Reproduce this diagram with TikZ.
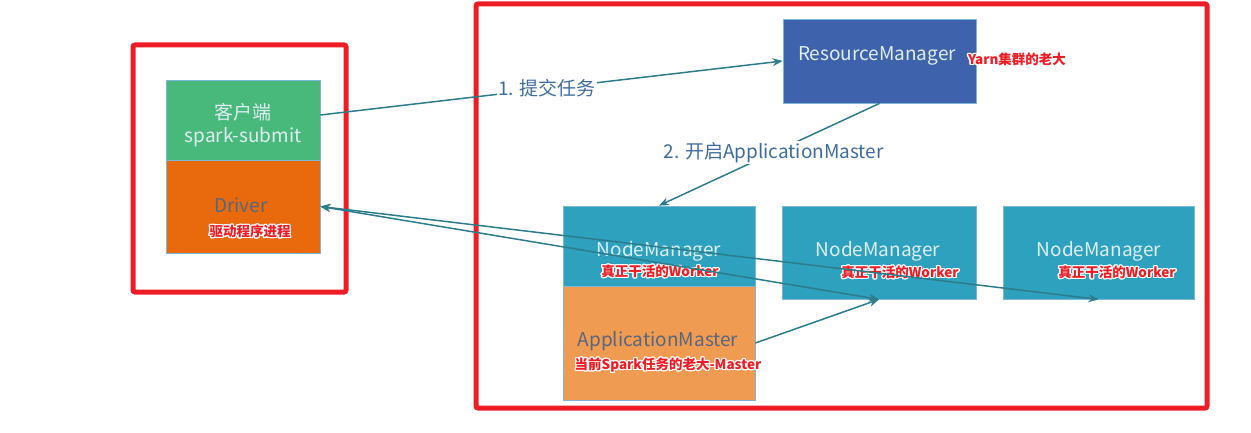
\documentclass[tikz,border=0pt]{standalone}
\usepackage{fontspec}
\setmainfont{Noto Sans CJK SC}
\usepackage[copies]{contour}
\contourlength{1.2pt}
\usetikzlibrary{arrows.meta}
\definecolor{frameRed}{RGB}{238,28,37}
\definecolor{clientGreen}{RGB}{72,185,122}
\definecolor{driverOrange}{RGB}{232,106,12}
\definecolor{rmBlue}{RGB}{63,98,173}
\definecolor{nmCyan}{RGB}{45,161,190}
\definecolor{amOrange}{RGB}{240,155,82}
\definecolor{edgeBlue}{RGB}{126,182,217}
\definecolor{flowTeal}{RGB}{44,124,140}
\definecolor{stepText}{RGB}{63,108,158}
\definecolor{darkText}{RGB}{88,102,126}
\definecolor{lightText}{RGB}{222,238,242}
\begin{document}
\begin{tikzpicture}[
    x=1pt, y=-1pt,
    frame/.style={draw=frameRed, line width=5pt, rounded corners=2pt},
    box/.style={rectangle, draw=edgeBlue, line width=0.8pt, inner sep=0pt},
    boxtext/.style={font=\fontsize{19}{23}\selectfont, align=center, inner sep=0pt},
    note/.style={font=\fontsize{13.5}{15}\selectfont\bfseries, text=frameRed, inner sep=0pt},
    steplabel/.style={fill=white, text=stepText, font=\fontsize{19}{22}\selectfont, inner sep=1pt},
    flow/.style={draw=flowTeal, line width=1.5pt, -{Stealth[length=10pt, width=8pt]}},
    flowboth/.style={flow, {Stealth[length=10pt, width=8pt]}-{Stealth[length=10pt, width=8pt]}}
]
    \useasboundingbox (0,0) rectangle (1251,433);

    % the two red frames
    \draw [frame] (133,45) rectangle (346,292);
    \draw [frame] (476,4) rectangle (1207,408);

    % client side
    \node [box, fill=clientGreen, minimum width=154pt, minimum height=80pt] (client) at (243,120) {};
    \node [box, fill=driverOrange, minimum width=154pt, minimum height=93pt] (driver) at (243,206.5) {};
    \node [boxtext, text=lightText] (clientText) at (243,125) {客户端\\spark-submit};
    \node [boxtext, text=darkText] (driverText) at (241,205) {Driver};
    \node [note] (driverNote) at (250,232) {\contour{white}{驱动程序进程}};

    % yarn cluster
    \node [box, fill=rmBlue, minimum width=193pt, minimum height=84pt] (rm) at (879.5,61) {};
    \node [boxtext, text=lightText] (rmText) at (877,56) {ResourceManager};
    \node [note] (rmNote) at (1017,60) {\contour{white}{Yarn集群的老大}};

    \node [box, fill=nmCyan, minimum width=192pt, minimum height=80pt] (nm1) at (659,246) {};
    \node [box, fill=amOrange, minimum width=192pt, minimum height=114pt] (am) at (659,343) {};
    \node [box, fill=nmCyan, minimum width=194pt, minimum height=93pt] (nm2) at (879,252.5) {};
    \node [box, fill=nmCyan, minimum width=191pt, minimum height=93pt] (nm3) at (1098.5,252.5) {};

    \node [boxtext, text=lightText] (nm1Text) at (659,251) {NodeManager};
    \node [note] (nm1Note) at (660,272) {\contour{white}{真正干活的Worker}};
    \node [boxtext, text=lightText] (nm2Text) at (878,251) {NodeManager};
    \node [note] (nm2Note) at (900,273) {\contour{white}{真正干活的Worker}};
    \node [boxtext, text=lightText] (nm3Text) at (1099,251) {NodeManager};
    \node [note] (nm3Note) at (1117,273) {\contour{white}{真正干活的Worker}};
    \node [boxtext, text=darkText] (amText) at (658,341) {ApplicationMaster};
    \node [note] (amNote) at (668,366) {\contour{white}{当前Spark任务的老大-Master}};

    % connectors
    \draw [flow] ([yshift=5pt]client.east) -- node [steplabel, pos=0.49] (step1) {1. 提交任务} (rm.west);
    \draw [flow] (rm.south) -- node [steplabel, pos=0.48] (step2) {2. 开启ApplicationMaster} (nm1.north);
    \draw [flowboth] (driver.east) -- (nm2.south);
    \draw [flowboth] (driver.east) -- (nm3.south);
    \draw [flow] (am.east) -- (nm2.south);
\end{tikzpicture}
\end{document}
